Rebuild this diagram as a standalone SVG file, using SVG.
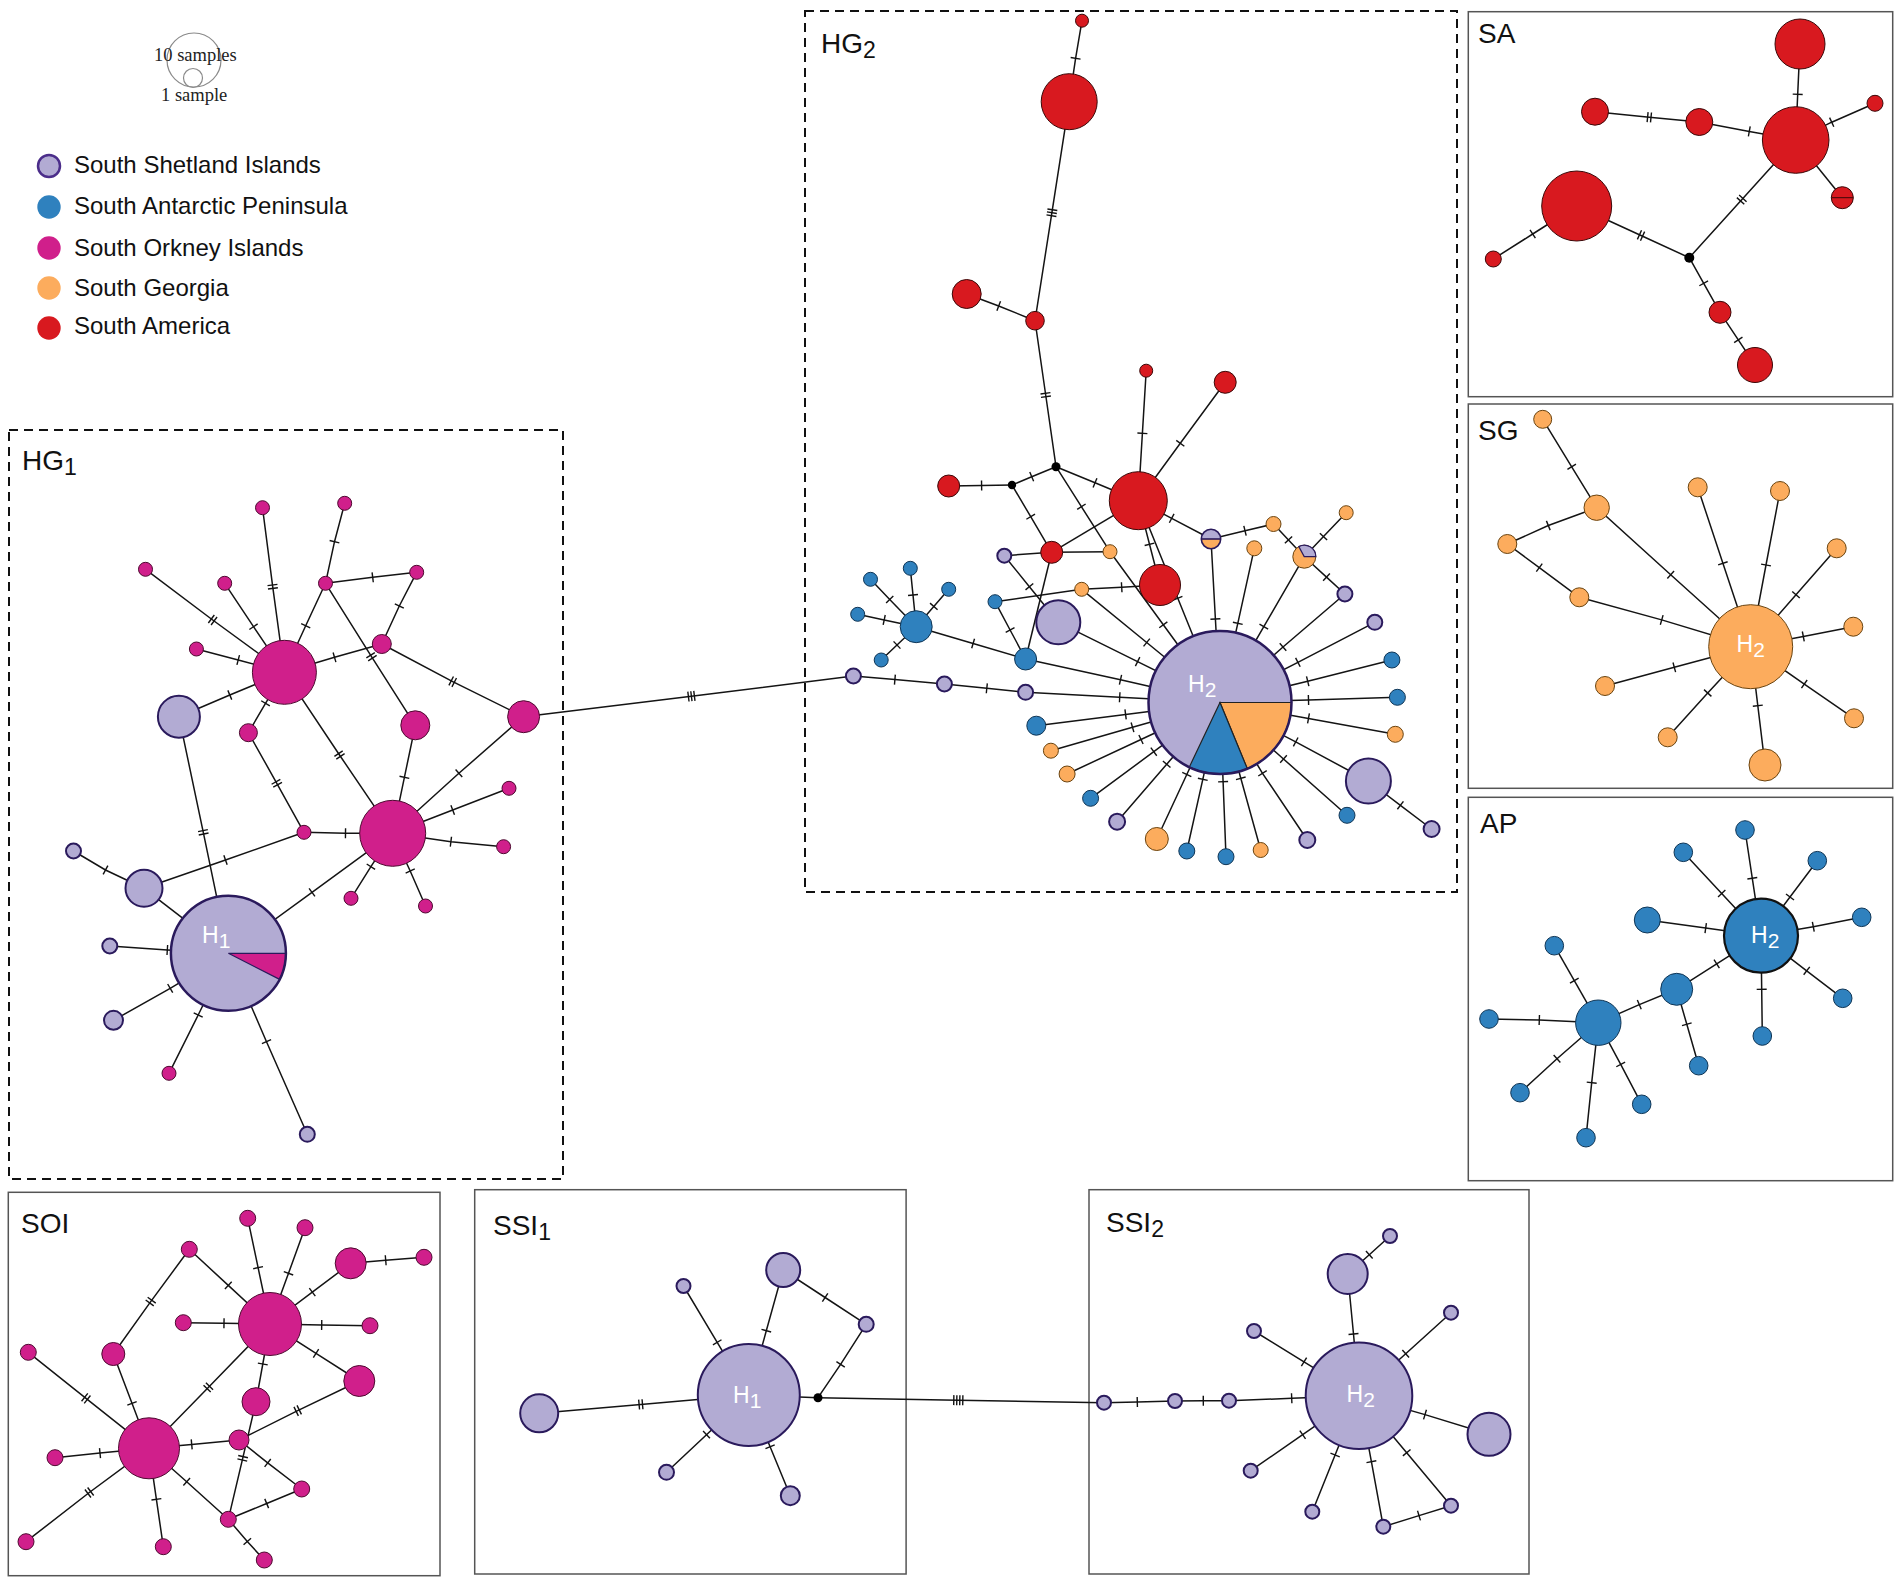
<svg xmlns="http://www.w3.org/2000/svg" width="1902" height="1585" viewBox="0 0 1902 1585">
<defs>
<marker id="t1" viewBox="-7 -7 14 14" markerWidth="14" markerHeight="14" orient="auto" markerUnits="userSpaceOnUse"><path d="M0 -5V5" stroke="#111" stroke-width="1.4"/></marker>
<marker id="t2" viewBox="-7 -7 14 14" markerWidth="14" markerHeight="14" orient="auto" markerUnits="userSpaceOnUse"><path d="M-1.7 -5V5M1.7 -5V5" stroke="#111" stroke-width="1.4"/></marker>
<marker id="t3" viewBox="-7 -7 14 14" markerWidth="14" markerHeight="14" orient="auto" markerUnits="userSpaceOnUse"><path d="M-3 -5V5M0 -5V5M3 -5V5" stroke="#111" stroke-width="1.4"/></marker>
<marker id="t4" viewBox="-7 -7 14 14" markerWidth="14" markerHeight="14" orient="auto" markerUnits="userSpaceOnUse"><path d="M-4.5 -5V5M-1.5 -5V5M1.5 -5V5M4.5 -5V5" stroke="#111" stroke-width="1.4"/></marker>
</defs>
<style>
.e path{fill:none;stroke:#141414;stroke-width:1.5}
.a{marker-mid:url(#t1)}
.b{marker-mid:url(#t2)}
.c{marker-mid:url(#t3)}
.d{marker-mid:url(#t4)}
.lv{fill:#b2abd3;stroke:#2a1a5c;stroke-width:2}
.mg{fill:#d01f8b;stroke:#4d0a30;stroke-width:1}
.bl{fill:#2f81be;stroke:#0f3555;stroke-width:1}
.or{fill:#fcac5d;stroke:#6a4410;stroke-width:1}
.rd{fill:#d8191f;stroke:#3a0808;stroke-width:1}
.bk{fill:#000}
.box{fill:none;stroke:#555;stroke-width:1.5}
.dash{fill:none;stroke:#111;stroke-width:2;stroke-dasharray:9 6}
.lab{font-family:"Liberation Sans",Arial,sans-serif;font-size:28px;fill:#111}
.h{font-family:"Liberation Sans",Arial,sans-serif;font-size:23px;fill:#fff}
.leg{font-family:"Liberation Sans",Arial,sans-serif;font-size:24px;fill:#111}
.ser{font-family:"Liberation Serif","Times New Roman",serif;font-size:18.5px;fill:#222}
</style>
<rect width="1902" height="1585" fill="#fff"/>

<g id="legend">
<circle cx="194" cy="60" r="27" fill="none" stroke="#8a8a8a" stroke-width="1.2"/>
<circle cx="193" cy="78" r="9.5" fill="none" stroke="#8a8a8a" stroke-width="1.2"/>
<text class="ser" x="154" y="61">10 samples</text>
<text class="ser" x="161" y="101">1 sample</text>
<circle cx="49" cy="166" r="11" fill="#b2abd3" stroke="#4b2d8a" stroke-width="2.5"/>
<circle cx="49" cy="207" r="11.7" fill="#2f81be"/>
<circle cx="49" cy="248" r="11.7" fill="#d01f8b"/>
<circle cx="49" cy="288" r="11.7" fill="#fcac5d"/>
<circle cx="49" cy="328" r="11.7" fill="#d8191f"/>
<text class="leg" x="74" y="173">South Shetland Islands</text>
<text class="leg" x="74" y="214">South Antarctic Peninsula</text>
<text class="leg" x="74" y="256">South Orkney Islands</text>
<text class="leg" x="74" y="296">South Georgia</text>
<text class="leg" x="74" y="334">South America</text>
</g>

<g id="frames">
<rect class="dash" x="9" y="430" width="554" height="749"/>
<rect class="dash" x="805" y="11" width="652" height="881"/>
<rect class="box" x="1468.3" y="11.7" width="424.4" height="385"/>
<rect class="box" x="1468.3" y="404" width="424.4" height="384.3"/>
<rect class="box" x="1468.3" y="797.3" width="424.4" height="383.4"/>
<rect class="box" x="8.3" y="1192.3" width="431.7" height="383.4"/>
<rect class="box" x="474.7" y="1189.7" width="431.4" height="384.3"/>
<rect class="box" x="1089" y="1189.7" width="440" height="384.3"/>
<text class="lab" x="22" y="470">HG<tspan font-size="23" dy="5">1</tspan></text>
<text class="lab" x="821" y="53">HG<tspan font-size="23" dy="5">2</tspan></text>
<text class="lab" x="1478" y="43">SA</text>
<text class="lab" x="1478" y="440">SG</text>
<text class="lab" x="1480" y="833">AP</text>
<text class="lab" x="21" y="1233">SOI</text>
<text class="lab" x="493" y="1235">SSI<tspan font-size="23" dy="5">1</tspan></text>
<text class="lab" x="1106" y="1232">SSI<tspan font-size="23" dy="5">2</tspan></text>
</g>

<g id="connectors" class="e">
<!-- HG1 -->
<path class="b" d="M262.5 507.7L272.7 586.7L284.4 672.3"/>
<path class="a" d="M344.7 503.3L334.5 541.7L325.5 583.3"/>
<path class="b" d="M145.5 569.3L212.7 620L284.4 672.3"/>
<path class="a" d="M224.7 583.3L253.5 626.7L284.4 672.3"/>
<path class="a" d="M325.5 583.3L305.7 625.7L284.4 672.3"/>
<path class="a" d="M325.5 583.3L372.7 577.3L416.7 572.3"/>
<path class="a" d="M416.7 572.3L399.3 606L381.8 644"/>
<path class="b" d="M325.5 583.3L371.5 656.7L415.3 725.3"/>
<path class="a" d="M284.4 672.3L334.5 657.3L381.8 644"/>
<path class="b" d="M381.8 644L452.7 681.7L523.6 716.7"/>
<path class="a" d="M196.4 649L238.2 660L284.4 672.3"/>
<path class="a" d="M178.9 716.7L229.8 695L284.4 672.3"/>
<path class="a" d="M248.4 732.7L265.5 703.3L284.4 672.3"/>
<path class="b" d="M284.4 672.3L339.5 755L392.7 833.3"/>
<path class="b" d="M248.4 732.7L276.8 783.3L304 832.3"/>
<path class="a" d="M415.3 725.3L404.4 777.3L392.7 833.3"/>
<path class="a" d="M523.6 716.7L458.9 773.3L392.7 833.3"/>
<path class="a" d="M509 788.3L452.7 810L392.7 833.3"/>
<path class="b" d="M178.9 716.7L203.3 832.3L228.4 953.3"/>
<path class="a" d="M304 832.3L345.5 833.3L392.7 833.3"/>
<path class="a" d="M304 832.3L225.5 860L144 888.3"/>
<path class="a" d="M73.5 851L105.5 870L144 888.3"/>
<path d="M144 888.3L228.4 953.3"/>
<path class="a" d="M392.7 833.3L312 892.4L228.4 953.3"/>
<path class="a" d="M392.7 833.3L450.9 841.7L503.6 846.7"/>
<path class="a" d="M392.7 833.3L370.9 866.7L351 898.3"/>
<path class="a" d="M392.7 833.3L410.2 871L425.5 906"/>
<path class="a" d="M109.8 946L167.3 950L228.4 953.3"/>
<path class="a" d="M113.5 1020.3L170.2 988.3L228.4 953.3"/>
<path class="a" d="M169 1073.3L198.2 1015L228.4 953.3"/>
<path class="a" d="M307.3 1134.3L266.5 1041.7L228.4 953.3"/>
<path class="c" d="M523.6 716.7L691.4 696.2L853.4 676"/>
<!-- HG2 -->
<path class="a" d="M1082 20.7L1075.6 58.3L1069.2 101.7"/>
<path class="c" d="M1069.2 101.7L1051.9 212.7L1035 320.7"/>
<path class="a" d="M966.7 294L998.7 306L1035 320.7"/>
<path class="b" d="M1035 320.7L1045.7 395L1056 466.7"/>
<path class="a" d="M1146.2 370.7L1142.4 433.3L1138.3 500.7"/>
<path class="a" d="M1225.2 382.3L1180.3 443.3L1138.3 500.7"/>
<path class="a" d="M1056 466.7L1031.7 476.7L1012 485"/>
<path class="a" d="M1056 466.7L1095 482.8L1138.3 500.7"/>
<path class="a" d="M1012 485L981.6 485.5L948.7 486"/>
<path class="a" d="M1012 485L1030.7 516.7L1051.7 552.3"/>
<path class="a" d="M1056 466.7L1081.4 506.7L1110 551.7"/>
<path class="a" d="M1110 551.7L1163.3 624.8L1220 702.5"/>
<path d="M1138.3 500.7L1051.7 552.3"/>
<path d="M1051.7 552.3L1004.3 555.7"/>
<path d="M1051.7 552.3L1110 551.7"/>
<path class="a" d="M1004.3 555.7L1029.4 586.7L1058.3 622.3"/>
<path d="M1051.7 552.3L1025.6 659"/>
<path class="a" d="M995 601.7L1010.1 630L1025.6 659"/>
<path d="M995 601.7L1081.7 589.3"/>
<path class="a" d="M1081.7 589.3L1121.7 587.2L1160 585"/>
<path class="a" d="M1081.7 589.3L1146.7 642.5L1220 702.5"/>
<path class="a" d="M1138.3 500.7L1171.7 518.3L1211 539"/>
<path class="a" d="M1211 539L1245 530.8L1273.5 524"/>
<path class="a" d="M1211 539L1215.4 619L1220 702.5"/>
<path class="a" d="M1254.3 548.3L1237.8 623.3L1220 702.5"/>
<path class="a" d="M1138.3 500.7L1149.5 544.3L1160 585"/>
<path class="a" d="M1138.3 500.7L1177.8 598.3L1220 702.5"/>
<path class="a" d="M1058.3 622.3L1137.6 661.6L1220 702.5"/>
<path class="a" d="M1025.6 659L1120.5 679.8L1220 702.5"/>
<path class="a" d="M916.2 626.7L973.1 643.5L1025.6 659"/>
<path class="a" d="M916.2 626.7L913 595L910.3 568.3"/>
<path class="a" d="M916.2 626.7L889.7 599.5L870.5 579.3"/>
<path class="a" d="M916.2 626.7L933.8 606.4L948.7 589.3"/>
<path class="a" d="M916.2 626.7L884.2 619.9L857.7 614.3"/>
<path class="a" d="M916.2 626.7L897 645L881.2 660"/>
<path class="a" d="M853.4 676L894.9 679.6L944.4 684"/>
<path class="a" d="M944.4 684L986.8 688.3L1025.6 692.3"/>
<path class="a" d="M1025.6 692.3L1119.7 697.3L1220 702.5"/>
<path class="a" d="M1036.3 725.7L1125.6 714.4L1220 702.5"/>
<path class="a" d="M1050.9 750.7L1132.5 727.3L1220 702.5"/>
<path class="a" d="M1067.1 774L1141 739.5L1220 702.5"/>
<path class="a" d="M1090.6 798.3L1153.8 751.7L1220 702.5"/>
<path class="a" d="M1117.1 821.7L1166.7 764.3L1220 702.5"/>
<path class="a" d="M1156.8 839L1186.8 774.5L1220 702.5"/>
<path class="a" d="M1186.8 851L1202.8 779.3L1220 702.5"/>
<path class="a" d="M1226 856.7L1223.1 781.7L1220 702.5"/>
<path class="a" d="M1260.7 850L1240.8 778.3L1220 702.5"/>
<path class="a" d="M1307.3 840L1262.5 773.3L1220 702.5"/>
<path class="a" d="M1347 815.3L1283.5 759L1220 702.5"/>
<path class="a" d="M1368.4 781L1295.7 741.9L1220 702.5"/>
<path class="a" d="M1368.4 781L1400.4 805.3L1431.6 829"/>
<path class="a" d="M1395.3 734.3L1308.5 718.4L1220 702.5"/>
<path class="a" d="M1397.4 697.3L1308.5 699.9L1220 702.5"/>
<path class="a" d="M1391.9 660L1307.7 681.2L1220 702.5"/>
<path class="a" d="M1374.8 622.3L1297.9 662.3L1220 702.5"/>
<path class="a" d="M1344.9 594L1283 647L1220 702.5"/>
<path class="a" d="M1304.3 556.7L1263.8 626.7L1220 702.5"/>
<path class="a" d="M1304.3 556.7L1326.5 577.1L1344.9 594"/>
<path class="a" d="M1304.3 556.7L1323.5 536.6L1346.2 512.7"/>
<path class="a" d="M1273.5 524L1288.5 539.9L1304.3 556.7"/>
<!-- SA -->
<path class="a" d="M1800 44L1797.7 94.3L1795.7 140"/>
<path class="a" d="M1795.7 140L1831.7 122.2L1875 103.3"/>
<path d="M1795.7 140L1842.3 197.7"/>
<path class="b" d="M1595 111.7L1649.3 117.3L1699.3 122"/>
<path class="a" d="M1699.3 122L1749.3 131.4L1795.7 140"/>
<path class="a" d="M1576.7 206L1532.7 234L1493.3 259"/>
<path class="b" d="M1576.7 206L1641 235.5L1689.3 257.7"/>
<path class="b" d="M1689.3 257.7L1741.7 199.7L1795.7 140"/>
<path class="a" d="M1689.3 257.7L1703.7 283.3L1720 312.3"/>
<path class="a" d="M1720 312.3L1738.3 339.9L1755 365"/>
<!-- SG -->
<path class="a" d="M1542.7 419.3L1571.7 466.8L1596.7 507.7"/>
<path class="a" d="M1596.7 507.7L1548.3 525.5L1507.3 544"/>
<path class="a" d="M1507.3 544L1539.3 567.6L1579.3 597.3"/>
<path class="a" d="M1579.3 597.3L1661.7 619.9L1750.7 646.7"/>
<path class="a" d="M1596.7 507.7L1670.7 574.8L1750.7 646.7"/>
<path class="a" d="M1697.7 487.3L1722.9 563.3L1750.7 646.7"/>
<path class="a" d="M1780 491L1766 565L1750.7 646.7"/>
<path class="a" d="M1836.7 548.3L1796 594.8L1750.7 646.7"/>
<path class="a" d="M1853.3 626.7L1803.3 636.4L1750.7 646.7"/>
<path class="a" d="M1854 718.3L1804.3 684.1L1750.7 646.7"/>
<path class="a" d="M1765 765L1757.8 705.7L1750.7 646.7"/>
<path class="a" d="M1667.7 737.3L1707.7 693L1750.7 646.7"/>
<path class="a" d="M1605 686L1674.3 667.3L1750.7 646.7"/>
<!-- AP -->
<path class="a" d="M1745 830L1752.3 878.3L1761 935.7"/>
<path class="a" d="M1683.3 852.3L1721.7 893.5L1761 935.7"/>
<path class="a" d="M1817.3 860.7L1790 897L1761 935.7"/>
<path class="a" d="M1647.3 920L1705.7 928.1L1761 935.7"/>
<path class="a" d="M1861.7 917.3L1813.3 926.7L1761 935.7"/>
<path class="a" d="M1842.7 998.3L1806.7 970.8L1761 935.7"/>
<path class="a" d="M1762.3 1036L1761.7 989.3L1761 935.7"/>
<path class="a" d="M1676.7 989.3L1716.7 963.9L1761 935.7"/>
<path class="a" d="M1676.7 989.3L1686.8 1024.3L1698.7 1065.7"/>
<path class="a" d="M1598.3 1022.7L1639.3 1004.6L1676.7 989.3"/>
<path class="a" d="M1598.3 1022.7L1574.3 980.7L1554.3 945.7"/>
<path class="a" d="M1598.3 1022.7L1539.3 1020L1489 1019"/>
<path class="a" d="M1598.3 1022.7L1557 1058.8L1520 1092.7"/>
<path class="a" d="M1598.3 1022.7L1591.7 1082.7L1586 1137.7"/>
<path class="a" d="M1598.3 1022.7L1620.7 1064.4L1641.7 1104.3"/>
<!-- SOI -->
<path class="a" d="M247.7 1218.3L258.1 1267.7L270 1324"/>
<path class="a" d="M305 1227.7L288.5 1273.3L270 1324"/>
<path class="a" d="M350.7 1263.3L312.3 1292.2L270 1324"/>
<path class="a" d="M350.7 1263.3L385.7 1260.3L424 1257.3"/>
<path class="a" d="M189.3 1249.3L228.3 1285.4L270 1324"/>
<path class="b" d="M189.3 1249.3L150.7 1301.6L113.3 1354"/>
<path class="a" d="M183.3 1322.7L224 1323.3L270 1324"/>
<path class="a" d="M270 1324L321.7 1325L370 1325.7"/>
<path class="a" d="M270 1324L316 1353.3L359.3 1381"/>
<path class="a" d="M270 1324L262.8 1364L256 1401.7"/>
<path class="b" d="M270 1324L208.3 1387.4L149 1448.3"/>
<path class="a" d="M113.3 1354L132 1403.3L149 1448.3"/>
<path class="b" d="M28.3 1352.3L86 1398.4L149 1448.3"/>
<path class="b" d="M359.3 1381L297.7 1410.6L239 1440"/>
<path class="a" d="M149 1448.3L191.7 1444.4L239 1440"/>
<path class="b" d="M256 1401.7L242.7 1458.3L228.3 1519.3"/>
<path class="a" d="M239 1440L267.7 1462.9L301.7 1489"/>
<path class="a" d="M301.7 1489L266.7 1503.5L228.3 1519.3"/>
<path class="a" d="M149 1448.3L186.7 1481.8L228.3 1519.3"/>
<path class="a" d="M228.3 1519.3L247.3 1541.5L264.3 1560"/>
<path class="a" d="M149 1448.3L100 1453.1L55 1457.7"/>
<path class="b" d="M149 1448.3L89.3 1492.5L26 1541.7"/>
<path class="a" d="M149 1448.3L156.4 1499.3L163.3 1546.7"/>
<!-- SSI1 -->
<path class="a" d="M683.5 1286L717.2 1342.3L748.8 1395"/>
<path class="a" d="M783.2 1270L766.3 1330.7L748.8 1395"/>
<path class="a" d="M783.2 1270L825.1 1297.5L866.2 1324.3"/>
<path class="a" d="M866.2 1324.3L840.6 1364.3L818 1397.7"/>
<path d="M818 1397.7L748.8 1395"/>
<path class="b" d="M539.2 1413.3L640.8 1404.4L748.8 1395"/>
<path class="a" d="M666.5 1472.3L706.5 1434.7L748.8 1395"/>
<path class="a" d="M790.3 1495.7L770.1 1446.7L748.8 1395"/>
<path class="d" d="M818 1397.7L958.3 1400.2L1104 1402.7"/>
<!-- SSI2 -->
<path class="a" d="M1104 1402.7L1137.3 1402L1175 1401"/>
<path class="a" d="M1175 1401L1203.3 1400.8L1229 1400.7"/>
<path class="a" d="M1229 1400.7L1291.7 1398.3L1359 1395.7"/>
<path class="a" d="M1390 1236L1369.3 1254.8L1347.7 1274"/>
<path class="a" d="M1347.7 1274L1353.5 1334L1359 1395.7"/>
<path class="a" d="M1451 1312.7L1405.7 1353.7L1359 1395.7"/>
<path class="a" d="M1254 1331L1304 1361.8L1359 1395.7"/>
<path class="a" d="M1489 1434.3L1425 1414.6L1359 1395.7"/>
<path class="a" d="M1250.7 1470.7L1302.7 1434.7L1359 1395.7"/>
<path class="a" d="M1312.3 1511.7L1335.1 1455L1359 1395.7"/>
<path class="a" d="M1383.3 1526.7L1371.4 1461.7L1359 1395.7"/>
<path class="a" d="M1451 1505.7L1406.7 1452.7L1359 1395.7"/>
<path class="a" d="M1383.3 1526.7L1419 1515.6L1451 1505.7"/>
</g>

<g id="hg1-nodes">
<g id="hg1-A"><circle class="mg" cx="262.5" cy="507.7" r="7"/></g>
<g id="hg1-B"><circle class="mg" cx="344.7" cy="503.3" r="7"/></g>
<g id="hg1-C"><circle class="mg" cx="145.5" cy="569.3" r="7"/></g>
<g id="hg1-D"><circle class="mg" cx="224.7" cy="583.3" r="7"/></g>
<g id="hg1-E"><circle class="mg" cx="325.5" cy="583.3" r="7"/></g>
<g id="hg1-F"><circle class="mg" cx="416.7" cy="572.3" r="7"/></g>
<g id="hg1-G"><circle class="mg" cx="196.4" cy="649" r="7"/></g>
<g id="hg1-hubA"><circle class="mg" cx="284.4" cy="672.3" r="32"/></g>
<g id="hg1-H"><circle class="mg" cx="381.8" cy="644" r="9.5"/></g>
<g id="hg1-I"><circle class="lv" cx="178.9" cy="716.7" r="21"/></g>
<g id="hg1-J"><circle class="mg" cx="248.4" cy="732.7" r="9"/></g>
<g id="hg1-K"><circle class="mg" cx="415.3" cy="725.3" r="14.5"/></g>
<g id="hg1-L"><circle class="mg" cx="523.6" cy="716.7" r="16"/></g>
<g id="hg1-M"><circle class="mg" cx="509" cy="788.3" r="7"/></g>
<g id="hg1-hubB"><circle class="mg" cx="392.7" cy="833.3" r="33"/></g>
<g id="hg1-N"><circle class="mg" cx="304" cy="832.3" r="7"/></g>
<g id="hg1-O"><circle class="lv" cx="73.5" cy="851" r="7.5"/></g>
<g id="hg1-P"><circle class="lv" cx="144" cy="888.3" r="18.5"/></g>
<g id="hg1-H1"><circle cx="228.4" cy="953.3" r="57.5" fill="#b2abd3"/><path fill="#d01f8b" stroke="#2a1a5c" stroke-width="1.2" d="M228.4 953.3L285.9 953.3A57.5 57.5 0 0 1 279.6 979.4Z"/><circle cx="228.4" cy="953.3" r="57.5" fill="none" stroke="#2a1a5c" stroke-width="2.5"/><text class="h" x="202" y="943">H<tspan font-size="21" dy="5">1</tspan></text></g>
<g id="hg1-Q"><circle class="lv" cx="109.8" cy="946" r="7.5"/></g>
<g id="hg1-R"><circle class="lv" cx="113.5" cy="1020.3" r="9.5"/></g>
<g id="hg1-S"><circle class="mg" cx="169" cy="1073.3" r="7"/></g>
<g id="hg1-T"><circle class="lv" cx="307.3" cy="1134.3" r="7.5"/></g>
<g id="hg1-U"><circle class="mg" cx="351" cy="898.3" r="7"/></g>
<g id="hg1-V"><circle class="mg" cx="425.5" cy="906" r="7"/></g>
<g id="hg1-W"><circle class="mg" cx="503.6" cy="846.7" r="7"/></g>
</g>

<g id="hg2-nodes">
<g id="hg2-r1"><circle class="rd" cx="1082" cy="20.7" r="6.5"/></g>
<g id="hg2-r2"><circle class="rd" cx="1069.2" cy="101.7" r="28"/></g>
<g id="hg2-r3"><circle class="rd" cx="966.7" cy="294" r="14.5"/></g>
<g id="hg2-r4"><circle class="rd" cx="1035" cy="320.7" r="9.3"/></g>
<g id="hg2-r5"><circle class="rd" cx="1146.2" cy="370.7" r="6.5"/></g>
<g id="hg2-r6"><circle class="rd" cx="1225.2" cy="382.3" r="11"/></g>
<g id="hg2-j1"><circle class="bk" cx="1056" cy="466.7" r="4.5"/></g>
<g id="hg2-j2"><circle class="bk" cx="1012" cy="485" r="4.2"/></g>
<g id="hg2-rl"><circle class="rd" cx="948.7" cy="486" r="11"/></g>
<g id="hg2-rbig"><circle class="rd" cx="1138.3" cy="500.7" r="29"/></g>
<g id="hg2-red2"><circle class="rd" cx="1160" cy="585" r="20.5"/></g>
<g id="hg2-rm"><circle class="rd" cx="1051.7" cy="552.3" r="11"/></g>
<g id="hg2-ls"><circle class="lv" cx="1004.3" cy="555.7" r="7"/></g>
<g id="hg2-os"><circle class="or" cx="1110" cy="551.7" r="7"/></g>
<g id="hg2-half"><path fill="#b2abd3" d="M1201.3 539A9.7 9.7 0 0 1 1220.7 539Z"/><path fill="#fcac5d" d="M1220.7 539A9.7 9.7 0 0 1 1201.3 539Z"/><circle cx="1211" cy="539" r="9.7" fill="none" stroke="#2a1a5c" stroke-width="1.6"/><path d="M1201.3 539H1220.7" stroke="#2a1a5c" stroke-width="1.6"/></g>
<g id="hg2-o2"><circle class="or" cx="1273.5" cy="524" r="7.5"/></g>
<g id="hg2-o3"><circle class="or" cx="1346.2" cy="512.7" r="7"/></g>
<g id="hg2-o4"><circle class="or" cx="1254.3" cy="548.3" r="7.5"/></g>
<g id="hg2-ol"><circle class="or" cx="1304.3" cy="556.7" r="11.5"/><path fill="#b2abd3" stroke="#2a1a5c" stroke-width="1.3" d="M1304.3 556.7L1298.8 546.6A11.5 11.5 0 0 1 1315.8 556.7Z"/></g>
<g id="hg2-l2"><circle class="lv" cx="1344.9" cy="594" r="7.5"/></g>
<g id="hg2-o5"><circle class="or" cx="1081.7" cy="589.3" r="7"/></g>
<g id="hg2-b1"><circle class="bl" cx="995" cy="601.7" r="7"/></g>
<g id="hg2-lb"><circle class="lv" cx="1058.3" cy="622.3" r="22"/></g>
<g id="hg2-bh"><circle class="bl" cx="916.2" cy="626.7" r="16"/></g>
<g id="hg2-bs1"><circle class="bl" cx="910.3" cy="568.3" r="7"/></g>
<g id="hg2-bs2"><circle class="bl" cx="870.5" cy="579.3" r="7"/></g>
<g id="hg2-bs3"><circle class="bl" cx="948.7" cy="589.3" r="7"/></g>
<g id="hg2-bs4"><circle class="bl" cx="857.7" cy="614.3" r="7"/></g>
<g id="hg2-bs5"><circle class="bl" cx="881.2" cy="660" r="7"/></g>
<g id="hg2-b2"><circle class="bl" cx="1025.6" cy="659" r="11"/></g>
<g id="hg2-l3"><circle class="lv" cx="853.4" cy="676" r="7.5"/></g>
<g id="hg2-l4"><circle class="lv" cx="944.4" cy="684" r="7.5"/></g>
<g id="hg2-l5"><circle class="lv" cx="1025.6" cy="692.3" r="7.5"/></g>
<g id="hg2-H2"><circle cx="1220" cy="702.5" r="71.5" fill="#b2abd3"/><path fill="#fcac5d" stroke="#222" stroke-width="1.2" d="M1220 702.5L1291.5 702.5A71.5 71.5 0 0 1 1247.25 768.6Z"/><path fill="#2f81be" stroke="#222" stroke-width="1.2" d="M1220 702.5L1247.25 768.6A71.5 71.5 0 0 1 1189.3 767.1Z"/><circle cx="1220" cy="702.5" r="71.5" fill="none" stroke="#2a1a5c" stroke-width="2.5"/><text class="h" x="1188" y="692">H<tspan font-size="21" dy="5">2</tspan></text></g>
<g id="hg2-l6"><circle class="lv" cx="1374.8" cy="622.3" r="7.5"/></g>
<g id="hg2-b3"><circle class="bl" cx="1391.9" cy="660" r="8"/></g>
<g id="hg2-b4"><circle class="bl" cx="1397.4" cy="697.3" r="8"/></g>
<g id="hg2-o6"><circle class="or" cx="1395.3" cy="734.3" r="8"/></g>
<g id="hg2-l7"><circle class="lv" cx="1368.4" cy="781" r="22.5"/></g>
<g id="hg2-l8"><circle class="lv" cx="1431.6" cy="829" r="8"/></g>
<g id="hg2-b5"><circle class="bl" cx="1347" cy="815.3" r="8"/></g>
<g id="hg2-l9"><circle class="lv" cx="1307.3" cy="840" r="8"/></g>
<g id="hg2-o7"><circle class="or" cx="1260.7" cy="850" r="7.5"/></g>
<g id="hg2-b6"><circle class="bl" cx="1226" cy="856.7" r="8"/></g>
<g id="hg2-b7"><circle class="bl" cx="1186.8" cy="851" r="8"/></g>
<g id="hg2-o8"><circle class="or" cx="1156.8" cy="839" r="11.5"/></g>
<g id="hg2-l10"><circle class="lv" cx="1117.1" cy="821.7" r="8"/></g>
<g id="hg2-b8"><circle class="bl" cx="1090.6" cy="798.3" r="8"/></g>
<g id="hg2-o9"><circle class="or" cx="1067.1" cy="774" r="8"/></g>
<g id="hg2-o10"><circle class="or" cx="1050.9" cy="750.7" r="7.5"/></g>
<g id="hg2-b9"><circle class="bl" cx="1036.3" cy="725.7" r="9.5"/></g>
</g>

<g id="sa-nodes">
<g id="sa-top"><circle class="rd" cx="1800" cy="44" r="25"/></g>
<g id="sa-hub"><circle class="rd" cx="1795.7" cy="140" r="33.3"/></g>
<g id="sa-rs"><circle class="rd" cx="1875" cy="103.3" r="8"/></g>
<g id="sa-lr"><circle class="rd" cx="1842.3" cy="197.7" r="11"/><path d="M1831.3 197.7H1853.3" stroke="#3a0808" stroke-width="1"/></g>
<g id="sa-ls"><circle class="rd" cx="1595" cy="111.7" r="13.5"/></g>
<g id="sa-mid"><circle class="rd" cx="1699.3" cy="122" r="13.5"/></g>
<g id="sa-bigl"><circle class="rd" cx="1576.7" cy="206" r="35"/></g>
<g id="sa-fl"><circle class="rd" cx="1493.3" cy="259" r="8"/></g>
<g id="sa-jn"><circle class="bk" cx="1689.3" cy="257.7" r="5"/></g>
<g id="sa-m"><circle class="rd" cx="1720" cy="312.3" r="11"/></g>
<g id="sa-bot"><circle class="rd" cx="1755" cy="365" r="17.5"/></g>
</g>

<g id="sg-nodes">
<g id="sg-a"><circle class="or" cx="1542.7" cy="419.3" r="9"/></g>
<g id="sg-b"><circle class="or" cx="1596.7" cy="507.7" r="12.7"/></g>
<g id="sg-c"><circle class="or" cx="1507.3" cy="544" r="9.5"/></g>
<g id="sg-d"><circle class="or" cx="1579.3" cy="597.3" r="9.5"/></g>
<g id="sg-e"><circle class="or" cx="1697.7" cy="487.3" r="9.5"/></g>
<g id="sg-f"><circle class="or" cx="1780" cy="491" r="9.5"/></g>
<g id="sg-g"><circle class="or" cx="1836.7" cy="548.3" r="9.5"/></g>
<g id="sg-h"><circle class="or" cx="1853.3" cy="626.7" r="9.5"/></g>
<g id="sg-i"><circle class="or" cx="1854" cy="718.3" r="9.5"/></g>
<g id="sg-j"><circle class="or" cx="1765" cy="765" r="16"/></g>
<g id="sg-k"><circle class="or" cx="1667.7" cy="737.3" r="9.5"/></g>
<g id="sg-l"><circle class="or" cx="1605" cy="686" r="9.5"/></g>
<g id="sg-H2"><circle class="or" cx="1750.7" cy="646.7" r="42" stroke-width="1.3"/><text class="h" x="1736.5" y="651.5">H<tspan font-size="21" dy="5">2</tspan></text></g>
</g>

<g id="ap-nodes">
<g id="ap-n1"><circle class="bl" cx="1745" cy="830" r="9.3"/></g>
<g id="ap-n2"><circle class="bl" cx="1683.3" cy="852.3" r="9.3"/></g>
<g id="ap-n3"><circle class="bl" cx="1817.3" cy="860.7" r="9.3"/></g>
<g id="ap-n4"><circle class="bl" cx="1647.3" cy="920" r="13"/></g>
<g id="ap-n5"><circle class="bl" cx="1861.7" cy="917.3" r="9.3"/></g>
<g id="ap-n6"><circle class="bl" cx="1842.7" cy="998.3" r="9.3"/></g>
<g id="ap-n7"><circle class="bl" cx="1762.3" cy="1036" r="9.3"/></g>
<g id="ap-m"><circle class="bl" cx="1676.7" cy="989.3" r="16"/></g>
<g id="ap-m2"><circle class="bl" cx="1698.7" cy="1065.7" r="9.3"/></g>
<g id="ap-hub"><circle class="bl" cx="1598.3" cy="1022.7" r="22.7"/></g>
<g id="ap-p1"><circle class="bl" cx="1554.3" cy="945.7" r="9.3"/></g>
<g id="ap-p2"><circle class="bl" cx="1489" cy="1019" r="9.3"/></g>
<g id="ap-p3"><circle class="bl" cx="1520" cy="1092.7" r="9.3"/></g>
<g id="ap-p4"><circle class="bl" cx="1586" cy="1137.7" r="9.3"/></g>
<g id="ap-p5"><circle class="bl" cx="1641.7" cy="1104.3" r="9.3"/></g>
<g id="ap-H2"><circle cx="1761" cy="935.7" r="37" fill="#2f81be" stroke="#111" stroke-width="2.2"/><text class="h" x="1751" y="943">H<tspan font-size="21" dy="5">2</tspan></text></g>
</g>

<g id="soi-nodes">
<g id="soi-s1"><circle class="mg" cx="247.7" cy="1218.3" r="8"/></g>
<g id="soi-s2"><circle class="mg" cx="305" cy="1227.7" r="8"/></g>
<g id="soi-s3"><circle class="mg" cx="350.7" cy="1263.3" r="15.5"/></g>
<g id="soi-s4"><circle class="mg" cx="424" cy="1257.3" r="8"/></g>
<g id="soi-s5"><circle class="mg" cx="189.3" cy="1249.3" r="8"/></g>
<g id="soi-hubA"><circle class="mg" cx="270" cy="1324" r="31.5"/></g>
<g id="soi-s6"><circle class="mg" cx="183.3" cy="1322.7" r="8"/></g>
<g id="soi-s7"><circle class="mg" cx="370" cy="1325.7" r="8"/></g>
<g id="soi-s8"><circle class="mg" cx="359.3" cy="1381" r="15.5"/></g>
<g id="soi-s9"><circle class="mg" cx="28.3" cy="1352.3" r="8"/></g>
<g id="soi-s10"><circle class="mg" cx="113.3" cy="1354" r="11.5"/></g>
<g id="soi-s11"><circle class="mg" cx="256" cy="1401.7" r="14"/></g>
<g id="soi-hubB"><circle class="mg" cx="149" cy="1448.3" r="30.5"/></g>
<g id="soi-s12"><circle class="mg" cx="239" cy="1440" r="10"/></g>
<g id="soi-s13"><circle class="mg" cx="55" cy="1457.7" r="8"/></g>
<g id="soi-s14"><circle class="mg" cx="301.7" cy="1489" r="8"/></g>
<g id="soi-s15"><circle class="mg" cx="228.3" cy="1519.3" r="8"/></g>
<g id="soi-s16"><circle class="mg" cx="26" cy="1541.7" r="8"/></g>
<g id="soi-s17"><circle class="mg" cx="163.3" cy="1546.7" r="8"/></g>
<g id="soi-s18"><circle class="mg" cx="264.3" cy="1560" r="8"/></g>
</g>

<g id="ssi1-nodes">
<g id="ssi1-q1"><circle class="lv" cx="683.5" cy="1286" r="7"/></g>
<g id="ssi1-q2"><circle class="lv" cx="783.2" cy="1270" r="17"/></g>
<g id="ssi1-q3"><circle class="lv" cx="866.2" cy="1324.3" r="7.5"/></g>
<g id="ssi1-jn"><circle class="bk" cx="818" cy="1397.7" r="4.5"/></g>
<g id="ssi1-q4"><circle class="lv" cx="539.2" cy="1413.3" r="19"/></g>
<g id="ssi1-q5"><circle class="lv" cx="666.5" cy="1472.3" r="7.5"/></g>
<g id="ssi1-q6"><circle class="lv" cx="790.3" cy="1495.7" r="9.5"/></g>
<g id="ssi1-H1"><circle class="lv" cx="748.8" cy="1395" r="51" stroke-width="2.5"/><text class="h" x="733" y="1403">H<tspan font-size="21" dy="5">1</tspan></text></g>
</g>

<g id="ssi2-nodes">
<g id="ssi2-t1"><circle class="lv" cx="1104" cy="1402.7" r="7"/></g>
<g id="ssi2-t2"><circle class="lv" cx="1175" cy="1401" r="7"/></g>
<g id="ssi2-t3"><circle class="lv" cx="1229" cy="1400.7" r="7"/></g>
<g id="ssi2-t4"><circle class="lv" cx="1390" cy="1236" r="7"/></g>
<g id="ssi2-t5"><circle class="lv" cx="1347.7" cy="1274" r="20"/></g>
<g id="ssi2-t6"><circle class="lv" cx="1451" cy="1312.7" r="7"/></g>
<g id="ssi2-t7"><circle class="lv" cx="1254" cy="1331" r="7"/></g>
<g id="ssi2-t8"><circle class="lv" cx="1489" cy="1434.3" r="21.5"/></g>
<g id="ssi2-t9"><circle class="lv" cx="1250.7" cy="1470.7" r="7"/></g>
<g id="ssi2-t10"><circle class="lv" cx="1312.3" cy="1511.7" r="7"/></g>
<g id="ssi2-t11"><circle class="lv" cx="1383.3" cy="1526.7" r="7"/></g>
<g id="ssi2-t12"><circle class="lv" cx="1451" cy="1505.7" r="7"/></g>
<g id="ssi2-H2"><circle class="lv" cx="1359" cy="1395.7" r="53.3" stroke-width="2.5"/><text class="h" x="1346.5" y="1401.5">H<tspan font-size="21" dy="5">2</tspan></text></g>
</g>
</svg>
